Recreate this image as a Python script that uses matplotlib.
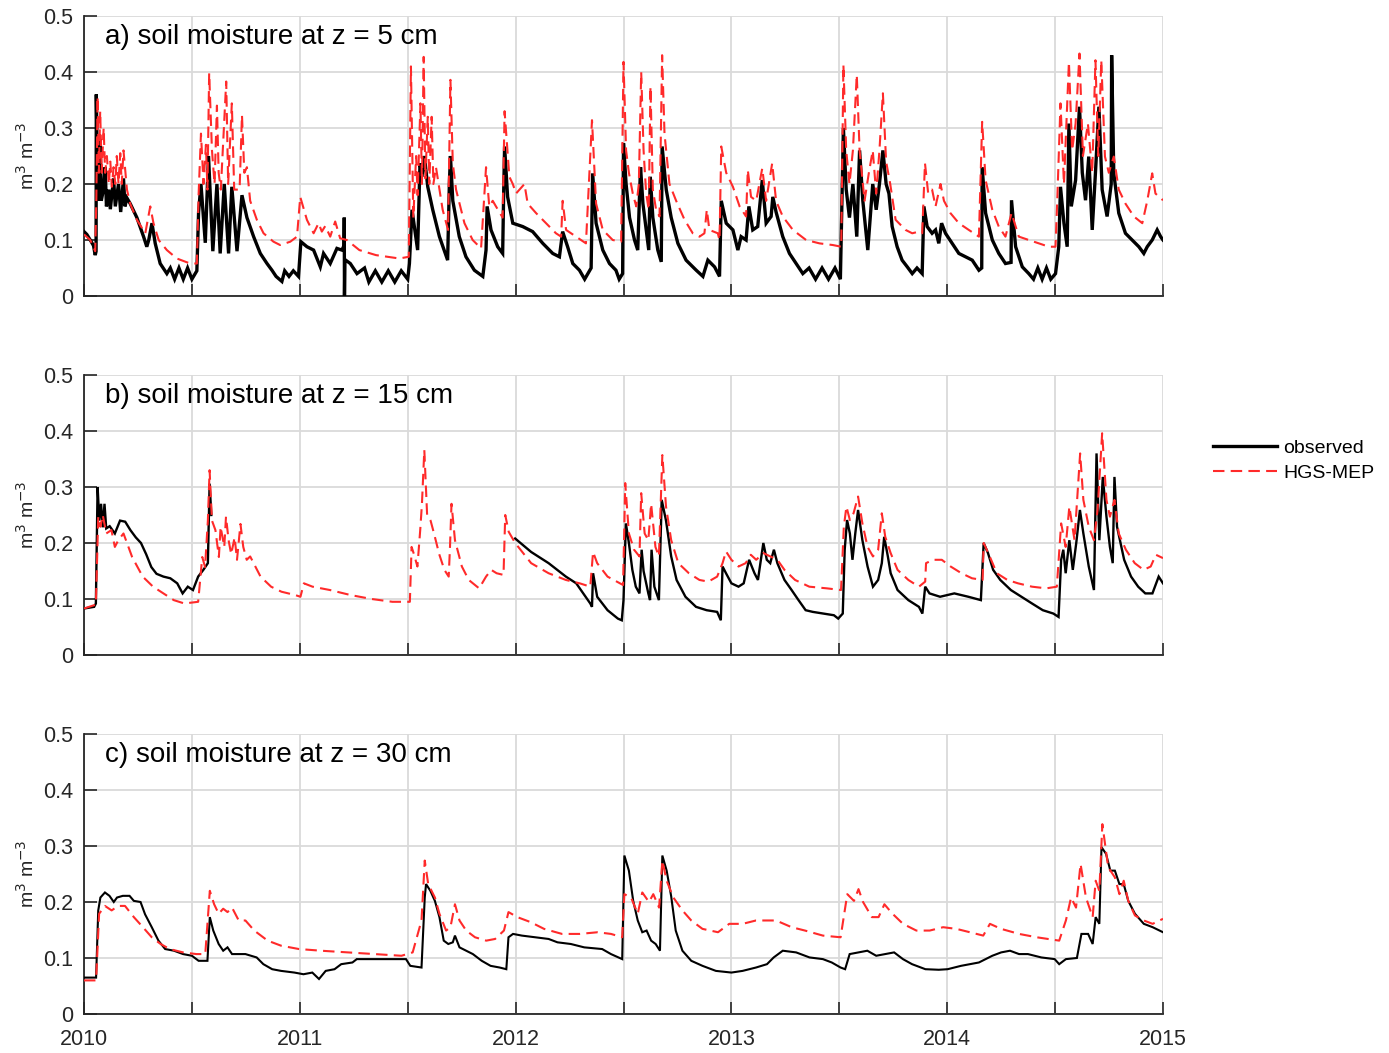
import numpy as np
import matplotlib
matplotlib.use("Agg")
import matplotlib.pyplot as plt

# ---------------- data (decimal year, volumetric soil moisture) ----------------
A_OBS = [
(2010.000,0.115),(2010.013,0.11),(2010.029,0.10),(2010.044,0.09),(2010.052,0.073),(2010.056,0.08),(2010.057,0.36),(2010.063,0.20),(2010.068,0.17),(2010.075,0.28),(2010.080,0.17),(2010.090,0.19),(2010.098,0.23),(2010.104,0.16),(2010.115,0.19),(2010.122,0.155),(2010.137,0.21),(2010.145,0.16),(2010.160,0.20),(2010.170,0.15),(2010.183,0.21),(2010.190,0.16),(2010.199,0.175),(2010.214,0.165),(2010.245,0.14),(2010.276,0.106),(2010.291,0.088),(2010.300,0.10),(2010.315,0.13),(2010.330,0.094),(2010.353,0.058),(2010.384,0.04),(2010.40,0.05),(2010.42,0.03),(2010.44,0.05),(2010.46,0.03),(2010.48,0.05),(2010.50,0.03),(2010.523,0.045),
(2010.531,0.15),(2010.542,0.20),(2010.562,0.095),(2010.577,0.25),(2010.597,0.08),(2010.616,0.20),(2010.631,0.076),(2010.650,0.20),(2010.670,0.076),(2010.685,0.195),(2010.709,0.08),(2010.732,0.18),(2010.755,0.14),(2010.786,0.106),(2010.817,0.076),(2010.848,0.058),(2010.871,0.046),(2010.89,0.035),(2010.917,0.026),(2010.93,0.045),(2010.95,0.035),(2010.97,0.045),(2010.994,0.035),
(2011.005,0.097),(2011.033,0.088),(2011.064,0.082),(2011.095,0.052),(2011.110,0.076),(2011.141,0.058),(2011.172,0.085),(2011.195,0.082),(2011.205,0.09),(2011.206,0.14),(2011.207,0.0),(2011.209,0.065),(2011.234,0.058),(2011.265,0.04),(2011.30,0.05),(2011.32,0.025),(2011.35,0.045),(2011.38,0.025),(2011.41,0.045),(2011.44,0.025),(2011.47,0.045),(2011.50,0.03),
(2011.508,0.058),(2011.520,0.154),(2011.531,0.124),(2011.546,0.082),(2011.557,0.237),(2011.566,0.213),(2011.577,0.25),(2011.593,0.195),(2011.616,0.154),(2011.647,0.106),(2011.685,0.064),(2011.693,0.20),(2011.698,0.25),(2011.709,0.17),(2011.739,0.106),(2011.770,0.07),(2011.809,0.046),(2011.848,0.035),(2011.863,0.082),(2011.868,0.16),(2011.886,0.118),(2011.917,0.088),(2011.940,0.076),(2011.945,0.19),(2011.949,0.267),(2011.963,0.177),(2011.987,0.13),(2012.033,0.124),(2012.079,0.115),(2012.126,0.094),(2012.172,0.076),(2012.203,0.07),(2012.218,0.115),(2012.241,0.088),(2012.265,0.058),(2012.296,0.046),(2012.32,0.03),(2012.350,0.05),(2012.357,0.219),(2012.373,0.13),(2012.404,0.082),(2012.435,0.058),(2012.465,0.046),(2012.48,0.03),(2012.496,0.04),
(2012.500,0.273),(2012.512,0.20),(2012.528,0.14),(2012.551,0.10),(2012.566,0.082),(2012.574,0.177),(2012.579,0.23),(2012.590,0.165),(2012.605,0.118),(2012.617,0.082),(2012.624,0.213),(2012.636,0.14),(2012.659,0.082),(2012.675,0.061),(2012.679,0.267),(2012.698,0.19),(2012.721,0.14),(2012.752,0.094),(2012.790,0.064),(2012.837,0.046),(2012.868,0.035),(2012.891,0.064),(2012.922,0.052),(2012.945,0.035),(2012.953,0.17),(2012.976,0.13),(2013.007,0.118),(2013.030,0.082),(2013.045,0.106),(2013.068,0.10),(2013.081,0.16),(2013.099,0.118),(2013.122,0.124),(2013.143,0.207),(2013.161,0.13),(2013.184,0.142),(2013.192,0.177),(2013.207,0.15),(2013.238,0.106),(2013.269,0.076),(2013.300,0.058),(2013.331,0.04),(2013.36,0.05),(2013.39,0.03),(2013.42,0.05),(2013.45,0.03),(2013.48,0.05),(2013.505,0.03),
(2013.519,0.30),(2013.532,0.19),(2013.547,0.14),(2013.563,0.20),(2013.581,0.106),(2013.594,0.26),(2013.609,0.17),(2013.632,0.082),(2013.655,0.20),(2013.671,0.154),(2013.686,0.20),(2013.702,0.26),(2013.717,0.20),(2013.730,0.183),(2013.745,0.124),(2013.768,0.088),(2013.791,0.064),(2013.815,0.052),(2013.838,0.04),(2013.86,0.05),(2013.884,0.04),(2013.892,0.16),(2013.907,0.124),(2013.930,0.112),(2013.946,0.118),(2013.961,0.094),(2013.974,0.13),(2013.992,0.112),(2014.023,0.094),(2014.054,0.076),(2014.085,0.07),(2014.116,0.064),(2014.147,0.046),(2014.160,0.05),(2014.162,0.23),(2014.178,0.148),(2014.209,0.10),(2014.239,0.076),(2014.270,0.058),(2014.296,0.06),(2014.298,0.171),(2014.317,0.088),(2014.348,0.052),(2014.378,0.04),(2014.40,0.03),(2014.42,0.05),(2014.44,0.03),(2014.46,0.05),(2014.48,0.03),(2014.502,0.04),
(2014.517,0.088),(2014.525,0.195),(2014.541,0.13),(2014.556,0.088),(2014.564,0.308),(2014.575,0.16),(2014.595,0.207),(2014.613,0.338),(2014.626,0.22),(2014.641,0.171),(2014.656,0.249),(2014.672,0.118),(2014.687,0.22),(2014.703,0.338),(2014.718,0.19),(2014.741,0.142),(2014.760,0.20),(2014.762,0.43),(2014.772,0.219),(2014.795,0.148),(2014.826,0.112),(2014.857,0.10),(2014.888,0.088),(2014.911,0.076),(2014.927,0.088),(2014.950,0.10),(2014.973,0.118),(2014.989,0.106),(2015.000,0.10)]

A_MOD = [
(2010.000,0.11),(2010.029,0.10),(2010.052,0.08),(2010.057,0.17),(2010.063,0.356),(2010.069,0.22),(2010.075,0.33),(2010.082,0.22),(2010.091,0.30),(2010.098,0.22),(2010.106,0.25),(2010.115,0.20),(2010.122,0.24),(2010.129,0.195),(2010.137,0.23),(2010.145,0.20),(2010.152,0.25),(2010.160,0.20),(2010.168,0.255),(2010.175,0.20),(2010.183,0.26),(2010.199,0.19),(2010.214,0.165),(2010.245,0.136),(2010.284,0.112),(2010.307,0.16),(2010.322,0.13),(2010.346,0.10),(2010.384,0.082),(2010.430,0.067),(2010.492,0.058),(2010.523,0.058),
(2010.531,0.18),(2010.542,0.29),(2010.554,0.20),(2010.565,0.27),(2010.572,0.19),(2010.580,0.398),(2010.593,0.26),(2010.605,0.20),(2010.616,0.34),(2010.624,0.22),(2010.634,0.19),(2010.659,0.383),(2010.668,0.20),(2010.685,0.344),(2010.696,0.19),(2010.721,0.19),(2010.732,0.323),(2010.743,0.22),(2010.755,0.23),(2010.770,0.17),(2010.801,0.136),(2010.832,0.112),(2010.878,0.097),(2010.909,0.091),(2010.956,0.097),(2010.987,0.106),(2011.002,0.177),(2011.033,0.136),(2011.064,0.112),(2011.087,0.13),(2011.102,0.115),(2011.118,0.125),(2011.141,0.106),(2011.164,0.133),(2011.187,0.103),(2011.218,0.10),(2011.276,0.082),(2011.353,0.073),(2011.461,0.067),(2011.505,0.07),
(2011.515,0.41),(2011.526,0.14),(2011.539,0.25),(2011.546,0.18),(2011.559,0.344),(2011.566,0.20),(2011.574,0.427),(2011.582,0.21),(2011.593,0.32),(2011.600,0.20),(2011.611,0.32),(2011.619,0.20),(2011.631,0.23),(2011.662,0.154),(2011.687,0.118),(2011.698,0.386),(2011.709,0.237),(2011.724,0.19),(2011.763,0.13),(2011.801,0.10),(2011.840,0.085),(2011.863,0.23),(2011.878,0.16),(2011.894,0.17),(2011.909,0.16),(2011.940,0.14),(2011.949,0.33),(2011.971,0.213),(2011.987,0.20),(2012.002,0.183),(2012.041,0.20),(2012.056,0.165),(2012.095,0.148),(2012.141,0.13),(2012.187,0.112),(2012.211,0.106),(2012.218,0.17),(2012.234,0.118),(2012.280,0.106),(2012.326,0.094),(2012.354,0.314),(2012.373,0.165),(2012.404,0.118),(2012.450,0.10),(2012.489,0.097),
(2012.500,0.418),(2012.512,0.26),(2012.525,0.22),(2012.543,0.183),(2012.559,0.16),(2012.571,0.20),(2012.582,0.40),(2012.593,0.26),(2012.605,0.183),(2012.617,0.154),(2012.625,0.374),(2012.636,0.19),(2012.651,0.154),(2012.667,0.142),(2012.679,0.43),(2012.690,0.29),(2012.713,0.20),(2012.744,0.17),(2012.783,0.136),(2012.821,0.112),(2012.852,0.106),(2012.875,0.112),(2012.886,0.154),(2012.898,0.118),(2012.937,0.112),(2012.945,0.10),(2012.953,0.267),(2012.976,0.22),(2013.007,0.195),(2013.038,0.16),(2013.068,0.142),(2013.076,0.225),(2013.091,0.177),(2013.115,0.17),(2013.143,0.228),(2013.161,0.17),(2013.189,0.237),(2013.207,0.17),(2013.238,0.142),(2013.285,0.118),(2013.346,0.10),(2013.408,0.094),(2013.470,0.091),(2013.509,0.088),
(2013.519,0.413),(2013.532,0.26),(2013.547,0.20),(2013.563,0.26),(2013.581,0.395),(2013.594,0.26),(2013.617,0.17),(2013.637,0.22),(2013.655,0.26),(2013.671,0.183),(2013.686,0.26),(2013.702,0.362),(2013.717,0.24),(2013.736,0.20),(2013.761,0.136),(2013.807,0.118),(2013.838,0.112),(2013.869,0.115),(2013.884,0.112),(2013.897,0.237),(2013.912,0.183),(2013.930,0.19),(2013.946,0.16),(2013.969,0.20),(2013.985,0.17),(2014.015,0.148),(2014.054,0.13),(2014.100,0.118),(2014.147,0.106),(2014.162,0.311),(2014.178,0.207),(2014.209,0.154),(2014.239,0.124),(2014.270,0.106),(2014.298,0.148),(2014.332,0.106),(2014.378,0.10),(2014.425,0.094),(2014.471,0.088),(2014.502,0.088),
(2014.510,0.171),(2014.525,0.344),(2014.541,0.20),(2014.564,0.418),(2014.579,0.26),(2014.595,0.308),(2014.613,0.433),(2014.629,0.25),(2014.652,0.308),(2014.672,0.22),(2014.687,0.421),(2014.700,0.25),(2014.714,0.421),(2014.731,0.249),(2014.749,0.22),(2014.772,0.249),(2014.795,0.19),(2014.826,0.165),(2014.865,0.142),(2014.904,0.13),(2014.927,0.17),(2014.950,0.219),(2014.965,0.183),(2015.000,0.171)]

B_OBS = [
(2010.000,0.083),(2010.047,0.086),(2010.055,0.092),(2010.063,0.30),(2010.071,0.24),(2010.079,0.27),(2010.087,0.228),(2010.095,0.27),(2010.103,0.226),(2010.119,0.23),(2010.143,0.217),(2010.167,0.24),(2010.191,0.238),(2010.215,0.223),(2010.240,0.21),(2010.264,0.20),(2010.288,0.18),(2010.312,0.157),(2010.336,0.145),(2010.368,0.14),(2010.400,0.137),(2010.432,0.128),(2010.457,0.11),(2010.481,0.122),(2010.505,0.116),(2010.529,0.14),(2010.553,0.152),(2010.574,0.164),(2010.582,0.306),(2010.590,0.25),(2010.595,np.nan),
(2011.998,0.208),(2012.072,0.184),(2012.153,0.164),(2012.233,0.14),(2012.281,0.128),(2012.346,0.092),(2012.354,0.086),(2012.359,0.146),(2012.378,0.104),(2012.426,0.08),(2012.474,0.065),(2012.492,0.062),
(2012.500,0.098),(2012.511,0.235),(2012.525,0.20),(2012.541,0.152),(2012.557,0.122),(2012.574,0.11),(2012.584,0.188),(2012.593,0.15),(2012.615,0.11),(2012.623,0.098),(2012.630,0.188),(2012.643,0.122),(2012.664,0.098),(2012.677,0.277),(2012.697,0.24),(2012.721,0.176),(2012.746,0.134),(2012.787,0.104),(2012.836,0.086),(2012.885,0.08),(2012.934,0.077),(2012.951,0.062),(2012.959,0.158),(2012.975,0.146),(2013.000,0.128),(2013.033,0.122),(2013.057,0.128),(2013.082,0.17),(2013.107,0.146),(2013.123,0.134),(2013.148,0.20),(2013.164,0.17),(2013.180,0.164),(2013.197,0.188),(2013.213,0.164),(2013.246,0.134),(2013.279,0.116),(2013.311,0.098),(2013.344,0.08),(2013.377,0.077),(2013.426,0.074),(2013.475,0.071),(2013.495,0.065),(2013.516,0.074),
(2013.525,0.188),(2013.536,0.241),(2013.549,0.217),(2013.561,0.17),(2013.574,0.217),(2013.587,0.259),(2013.607,0.205),(2013.631,0.158),(2013.656,0.122),(2013.680,0.134),(2013.697,0.164),(2013.708,0.211),(2013.725,0.176),(2013.738,0.146),(2013.770,0.116),(2013.820,0.098),(2013.869,0.086),(2013.885,0.074),(2013.898,0.122),(2013.918,0.11),(2013.967,0.104),(2014.033,0.11),(2014.098,0.104),(2014.156,0.098),(2014.169,0.20),(2014.189,0.182),(2014.213,0.152),(2014.246,0.134),(2014.295,0.116),(2014.344,0.104),(2014.393,0.092),(2014.443,0.08),(2014.492,0.074),(2014.516,0.068),
(2014.528,0.17),(2014.538,0.188),(2014.549,0.146),(2014.566,0.205),(2014.582,0.152),(2014.598,0.20),(2014.615,0.259),(2014.631,0.217),(2014.656,0.158),(2014.680,0.116),(2014.692,0.36),(2014.705,0.205),(2014.721,0.318),(2014.738,0.247),(2014.754,0.193),(2014.767,0.164),(2014.775,0.318),(2014.787,0.229),(2014.820,0.17),(2014.852,0.14),(2014.885,0.122),(2014.918,0.11),(2014.951,0.11),(2014.980,0.14),(2015.000,0.128)]

B_MOD = [
(2010.000,0.083),(2010.055,0.09),(2010.066,0.247),(2010.076,0.229),(2010.087,0.25),(2010.103,0.217),(2010.127,0.223),(2010.143,0.193),(2010.159,0.205),(2010.183,0.217),(2010.199,0.20),(2010.223,0.175),(2010.272,0.14),(2010.320,0.122),(2010.368,0.11),(2010.416,0.098),(2010.465,0.092),(2010.529,0.095),(2010.548,0.175),(2010.561,0.157),(2010.574,0.24),(2010.582,0.33),(2010.593,0.24),(2010.609,0.223),(2010.625,0.175),(2010.633,0.229),(2010.650,0.193),(2010.658,0.247),(2010.670,0.205),(2010.682,0.18),(2010.698,0.21),(2010.709,0.17),(2010.725,0.234),(2010.738,0.193),(2010.754,0.17),(2010.770,0.176),(2010.786,0.164),(2010.818,0.14),(2010.867,0.122),(2010.915,0.113),(2010.979,0.107),(2011.003,0.104),(2011.019,0.128),(2011.059,0.122),(2011.140,0.116),(2011.236,0.107),(2011.333,0.10),(2011.429,0.095),(2011.510,0.095),
(2011.518,0.193),(2011.529,0.18),(2011.545,0.158),(2011.558,0.223),(2011.566,0.27),(2011.577,0.366),(2011.590,0.25),(2011.606,0.24),(2011.622,0.217),(2011.646,0.18),(2011.670,0.152),(2011.690,0.14),(2011.696,0.193),(2011.703,0.27),(2011.719,0.205),(2011.751,0.158),(2011.783,0.134),(2011.831,0.119),(2011.863,0.14),(2011.887,0.152),(2011.912,0.146),(2011.944,0.143),(2011.952,0.25),(2011.968,0.22),(2011.998,0.20),(2012.072,0.164),(2012.153,0.146),(2012.233,0.134),(2012.297,0.128),(2012.346,0.122),(2012.359,0.184),(2012.378,0.164),(2012.426,0.14),(2012.474,0.13),(2012.498,0.125),
(2012.508,0.307),(2012.525,0.217),(2012.549,0.188),(2012.574,0.176),(2012.582,0.289),(2012.598,0.217),(2012.615,0.205),(2012.628,0.27),(2012.648,0.193),(2012.664,0.176),(2012.680,0.357),(2012.697,0.265),(2012.721,0.205),(2012.754,0.164),(2012.803,0.146),(2012.852,0.134),(2012.893,0.131),(2012.934,0.14),(2012.959,0.164),(2012.975,0.185),(2013.000,0.17),(2013.033,0.158),(2013.066,0.164),(2013.090,0.179),(2013.115,0.17),(2013.148,0.182),(2013.180,0.176),(2013.213,0.17),(2013.246,0.152),(2013.295,0.134),(2013.361,0.122),(2013.443,0.119),(2013.508,0.116),
(2013.521,0.229),(2013.533,0.265),(2013.549,0.241),(2013.566,0.253),(2013.587,0.283),(2013.607,0.235),(2013.631,0.193),(2013.656,0.176),(2013.680,0.188),(2013.697,0.253),(2013.713,0.211),(2013.738,0.182),(2013.770,0.152),(2013.820,0.134),(2013.869,0.122),(2013.898,0.131),(2013.902,0.164),(2013.934,0.17),(2013.975,0.17),(2014.016,0.158),(2014.066,0.146),(2014.115,0.137),(2014.164,0.134),(2014.169,0.20),(2014.197,0.176),(2014.230,0.146),(2014.279,0.134),(2014.328,0.128),(2014.393,0.122),(2014.459,0.119),(2014.508,0.122),
(2014.528,0.235),(2014.549,0.193),(2014.566,0.265),(2014.590,0.205),(2014.616,0.36),(2014.631,0.277),(2014.656,0.229),(2014.680,0.205),(2014.697,0.26),(2014.718,0.396),(2014.738,0.277),(2014.754,0.247),(2014.775,0.277),(2014.795,0.217),(2014.828,0.188),(2014.869,0.164),(2014.910,0.152),(2014.943,0.158),(2014.967,0.179),(2015.000,0.173)]

C_OBS = [
(2010.000,0.065),(2010.056,0.065),(2010.066,0.185),(2010.076,0.208),(2010.097,0.217),(2010.118,0.211),(2010.138,0.20),(2010.153,0.208),(2010.180,0.211),(2010.211,0.211),(2010.231,0.202),(2010.262,0.20),(2010.283,0.178),(2010.314,0.155),(2010.345,0.131),(2010.376,0.116),(2010.417,0.113),(2010.459,0.107),(2010.500,0.104),(2010.531,0.095),(2010.572,0.095),(2010.583,0.173),(2010.599,0.149),(2010.624,0.125),(2010.645,0.113),(2010.665,0.119),(2010.686,0.107),(2010.748,0.107),(2010.800,0.101),(2010.831,0.089),(2010.872,0.08),(2010.913,0.077),(2010.975,0.074),(2011.017,0.071),(2011.058,0.074),(2011.089,0.0625),(2011.120,0.077),(2011.161,0.08),(2011.192,0.089),(2011.244,0.092),(2011.264,0.098),(2011.368,0.098),(2011.492,0.098),(2011.512,0.086),(2011.564,0.083),
(2011.579,0.208),(2011.585,0.232),(2011.605,0.22),(2011.626,0.202),(2011.647,0.173),(2011.667,0.131),(2011.688,0.125),(2011.709,0.128),(2011.719,0.14),(2011.740,0.119),(2011.771,0.113),(2011.802,0.107),(2011.843,0.095),(2011.884,0.086),(2011.926,0.083),(2011.957,0.08),(2011.967,0.137),(2011.988,0.143),(2012.029,0.14),(2012.091,0.137),(2012.153,0.134),(2012.194,0.128),(2012.256,0.125),(2012.318,0.119),(2012.401,0.116),(2012.442,0.107),(2012.494,0.098),
(2012.504,0.283),(2012.525,0.256),(2012.545,0.202),(2012.566,0.167),(2012.587,0.146),(2012.607,0.149),(2012.628,0.131),(2012.649,0.125),(2012.669,0.113),(2012.680,0.283),(2012.700,0.256),(2012.721,0.21),(2012.742,0.149),(2012.773,0.113),(2012.814,0.095),(2012.866,0.086),(2012.928,0.077),(2013.000,0.074),(2013.052,0.077),(2013.114,0.083),(2013.165,0.089),(2013.196,0.101),(2013.238,0.113),(2013.300,0.11),(2013.362,0.101),(2013.424,0.098),(2013.465,0.092),(2013.506,0.083),(2013.527,0.08),
(2013.548,0.107),(2013.589,0.11),(2013.630,0.113),(2013.671,0.104),(2013.713,0.107),(2013.754,0.11),(2013.795,0.098),(2013.837,0.089),(2013.899,0.08),(2013.961,0.079),(2014.002,0.08),(2014.064,0.086),(2014.147,0.092),(2014.209,0.104),(2014.250,0.11),(2014.291,0.113),(2014.333,0.107),(2014.374,0.107),(2014.436,0.101),(2014.498,0.098),(2014.519,0.089),(2014.550,0.098),(2014.601,0.10),(2014.622,0.143),(2014.653,0.143),(2014.674,0.125),(2014.688,0.173),(2014.705,0.161),(2014.715,0.298),(2014.736,0.286),(2014.756,0.256),(2014.777,0.256),(2014.798,0.232),(2014.818,0.232),(2014.839,0.202),(2014.870,0.179),(2014.911,0.161),(2014.952,0.155),(2015.000,0.146)]

C_MOD = [
(2010.000,0.06),(2010.056,0.06),(2010.070,0.179),(2010.097,0.193),(2010.128,0.185),(2010.159,0.193),(2010.190,0.193),(2010.231,0.173),(2010.273,0.155),(2010.314,0.137),(2010.355,0.125),(2010.397,0.116),(2010.459,0.11),(2010.521,0.107),(2010.562,0.107),(2010.583,0.22),(2010.603,0.196),(2010.624,0.179),(2010.645,0.188),(2010.665,0.182),(2010.686,0.19),(2010.717,0.167),(2010.748,0.167),(2010.789,0.149),(2010.851,0.131),(2010.913,0.122),(2010.996,0.116),(2011.099,0.113),(2011.223,0.11),(2011.347,0.107),(2011.471,0.104),(2011.523,0.11),(2011.564,0.167),
(2011.579,0.274),(2011.595,0.232),(2011.626,0.208),(2011.647,0.179),(2011.678,0.149),(2011.698,0.155),(2011.719,0.196),(2011.740,0.167),(2011.771,0.149),(2011.812,0.137),(2011.864,0.131),(2011.905,0.134),(2011.946,0.149),(2011.967,0.182),(2012.008,0.173),(2012.070,0.164),(2012.132,0.152),(2012.215,0.143),(2012.298,0.143),(2012.380,0.146),(2012.442,0.143),(2012.494,0.137),
(2012.504,0.214),(2012.535,0.208),(2012.566,0.179),(2012.587,0.217),(2012.618,0.20),(2012.638,0.214),(2012.665,0.19),(2012.680,0.274),(2012.700,0.238),(2012.731,0.208),(2012.773,0.185),(2012.814,0.167),(2012.866,0.152),(2012.938,0.146),(2012.990,0.161),(2013.052,0.161),(2013.114,0.167),(2013.207,0.167),(2013.279,0.155),(2013.341,0.149),(2013.424,0.14),(2013.506,0.137),
(2013.537,0.214),(2013.568,0.202),(2013.589,0.223),(2013.610,0.20),(2013.651,0.173),(2013.682,0.173),(2013.709,0.196),(2013.744,0.18),(2013.795,0.161),(2013.857,0.149),(2013.919,0.149),(2013.981,0.155),(2014.043,0.152),(2014.105,0.146),(2014.167,0.14),(2014.198,0.161),(2014.250,0.152),(2014.333,0.143),(2014.415,0.137),(2014.519,0.131),
(2014.550,0.167),(2014.574,0.208),(2014.597,0.19),(2014.618,0.268),(2014.643,0.208),(2014.674,0.173),(2014.688,0.238),(2014.705,0.22),(2014.719,0.339),(2014.746,0.262),(2014.777,0.244),(2014.798,0.214),(2014.818,0.238),(2014.839,0.202),(2014.870,0.176),(2014.911,0.167),(2014.952,0.161),(2015.000,0.17)]

PANEL_TITLES = ["a) soil moisture at z = 5 cm",
                "b) soil moisture at z = 15 cm",
                "c) soil moisture at z = 30 cm"]
SERIES = [(A_OBS, A_MOD), (B_OBS, B_MOD), (C_OBS, C_MOD)]
YEAR_LABELS = ["2010", "2011", "2012", "2013", "2014", "2015"]
LEGEND_LABELS = ["observed", "HGS-MEP"]

# ---------------- style ----------------
plt.rcParams['font.family'] = ['Liberation Sans', 'DejaVu Sans']
TXT = '#262626'
GRID = '#dadada'
RED = '#ff2a2a'

fig = plt.figure(figsize=(13.89, 10.53), dpi=100)
W, H = 1389.0, 1053.0
left_px, right_px = 84, 1163
tops = [16, 375, 734]
h_px = 280

obs_lw = [2.4, 1.7, 1.5]
handles = None
for i, (top, (obs, mod)) in enumerate(zip(tops, SERIES)):
    ax = fig.add_axes([left_px / W, 1 - (top + h_px) / H, (right_px - left_px) / W, h_px / H])
    ot, ov = zip(*obs)
    mt, mv = zip(*mod)
    l1, = ax.plot(ot, ov, color='black', lw=obs_lw[i], solid_joinstyle='miter', zorder=3)
    l2, = ax.plot(mt, mv, color=RED, lw=1.5, linestyle=(0, (5.5, 3)), zorder=4)
    if handles is None:
        handles = [l1, l2]
    ax.set_xlim(2010, 2015)
    ax.set_ylim(0, 0.5)
    xt = np.arange(2010, 2015.01, 0.5)
    ax.set_xticks(xt)
    ax.set_yticks(np.arange(0, 0.501, 0.1))
    ax.set_yticklabels(['0', '0.1', '0.2', '0.3', '0.4', '0.5'])
    if i == 2:
        labs = []
        k = 0
        for t in xt:
            if abs(t - round(t)) < 1e-6:
                labs.append(YEAR_LABELS[k]); k += 1
            else:
                labs.append('')
        ax.set_xticklabels(labs)
    else:
        ax.set_xticklabels([])
    ax.grid(True, color=GRID, lw=1.3, zorder=0)
    ax.set_axisbelow(True)
    for s in ['top', 'right']:
        ax.spines[s].set_visible(False)
    for s in ['left', 'bottom']:
        ax.spines[s].set_color(TXT)
        ax.spines[s].set_linewidth(1.3)
    ax.tick_params(direction='in', length=9, width=1.2, colors=TXT, labelsize=15.5)
    ax.tick_params(axis='x', pad=11)
    ax.tick_params(axis='y', pad=8)
    ax.set_ylabel(r'm$^3$ m$^{-3}$', fontsize=14, color=TXT)
    ax.yaxis.set_label_coords(-0.043, 0.5)
    ax.text(0.0195, 0.925, PANEL_TITLES[i], transform=ax.transAxes,
            fontsize=20, color='black', va='center', ha='left', zorder=6)

fig.legend(handles, LEGEND_LABELS, loc='upper left',
           bbox_to_anchor=(1213 / W, 1 - 439 / H), frameon=False,
           fontsize=14, handlelength=3.3, handletextpad=0.3, labelspacing=0.4,
           borderaxespad=0, borderpad=0)

fig.savefig('out.png', dpi=100)
